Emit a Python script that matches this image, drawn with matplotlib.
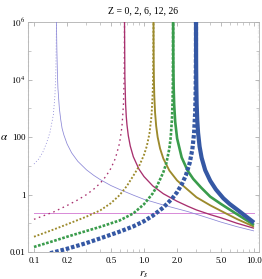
import matplotlib
matplotlib.use('Agg')
import matplotlib.pyplot as plt
from matplotlib.ticker import FixedLocator, FixedFormatter, NullFormatter

title = "Z = 0, 2, 6, 12, 26"
z_values = [0, 2, 6, 12, 26]
alpha_line = 0.235
alpha_line_range = [0.1, 10.0]

# Z = 0
r0_sol = [0.160, 0.1615, 0.163, 0.165, 0.17, 0.175, 0.18, 0.187, 0.2, 0.22, 0.25, 0.3, 0.35, 0.4,
          0.5, 0.6, 0.8, 1.0, 1.25, 1.5, 2.0, 2.5, 3.0, 4.0, 5.0, 7.0, 10.0]
a0_sol = [1e6, 1e5, 2e4, 5000, 1000, 400, 200, 117, 57, 28, 14.3, 7.2, 4.6, 3.3,
          2.05, 1.5, 0.95, 0.68, 0.53, 0.43, 0.32, 0.255, 0.205, 0.145, 0.11, 0.076, 0.054]
r0_dot = [0.1, 0.11, 0.12, 0.13, 0.14, 0.15, 0.155, 0.158, 0.160]
a0_dot = [11.5, 17, 29, 62, 150, 600, 2800, 2e4, 1e6]

# Z = 2
r2_sol = [0.665, 0.67, 0.68, 0.69, 0.70, 0.72, 0.75, 0.8, 0.9, 1.0, 1.2, 1.5, 2.0, 2.5, 3.0, 4.0, 5.0, 7.0, 10.0]
a2_sol = [1e6, 12400, 1400, 514, 266, 111, 48.6, 20.5, 7.6, 4.2, 2.0, 1.06, 0.58, 0.39, 0.29, 0.2, 0.155, 0.1, 0.067]
r2_dot = [0.1, 0.15, 0.2, 0.25, 0.3, 0.35, 0.4, 0.45, 0.5, 0.55, 0.6, 0.63, 0.65, 0.66, 0.665]
a2_dot = [0.137, 0.245, 0.415, 0.65, 0.99, 1.55, 2.48, 4.26, 8.1, 18.3, 62, 225, 1270, 11600, 1e6]

# Z = 6
r6_sol = [1.22, 1.225, 1.23, 1.24, 1.26, 1.29, 1.33, 1.4, 1.5, 1.7, 2.0, 2.5, 3.0, 4.0, 5.0, 7.0, 10.0]
a6_sol = [1e6, 44800, 11260, 2837, 720, 241, 100, 39.6, 17.6, 6.8, 3.07, 1.46, 0.8, 0.42, 0.27, 0.14, 0.076]
r6_dot = [0.1, 0.15, 0.2, 0.3, 0.4, 0.5, 0.6, 0.7, 0.8, 0.9, 1.0, 1.06, 1.12, 1.17, 1.2, 1.21, 1.22]
a6_dot = [0.034, 0.06, 0.092, 0.17, 0.28, 0.5, 0.95, 2.0, 4.5, 9.5, 24, 48, 130, 540, 3500, 14000, 1e6]

# Z = 12
r12_sol = [1.84, 1.845, 1.85, 1.86, 1.88, 1.92, 2.0, 2.2, 2.5, 2.8, 3.3, 4.0, 5.0, 6.0, 8.0, 10.0]
a12_sol = [1e6, 84000, 21100, 5300, 1341, 342, 89, 19.4, 6.6, 3.5, 1.75, 0.84, 0.47, 0.3, 0.15, 0.087]
r12_dot = [0.1, 0.15, 0.2, 0.3, 0.4, 0.6, 0.8, 1.0, 1.2, 1.3, 1.4, 1.5, 1.6, 1.7, 1.75, 1.8, 1.82, 1.83, 1.84]
a12_dot = [0.015, 0.024, 0.034, 0.054, 0.075, 0.125, 0.22, 0.46, 1.09, 1.82, 3.35, 6.0, 12.8, 40, 99, 517, 2093, 8400, 1e6]

# Z = 26
r26_sol = [2.97, 2.975, 2.98, 2.99, 3.01, 3.05, 3.1, 3.2, 3.34, 3.6, 4.0, 4.5, 5.26, 6.0, 7.46, 8.5, 10.0]
a26_sol = [1e6, 92000, 23000, 5775, 1452, 368, 142, 46.7, 18.9, 7.0, 3.0, 1.5, 0.74, 0.47, 0.25, 0.17, 0.105]
r26_dot = [0.14, 0.155, 0.2, 0.3, 0.4, 0.6, 0.8, 1.0, 1.2, 1.5, 1.8, 2.0, 2.2, 2.4, 2.6, 2.75, 2.85, 2.92, 2.95, 2.965, 2.97]
a26_dot = [0.0091, 0.01, 0.013, 0.0205, 0.0298, 0.051, 0.078, 0.118, 0.183, 0.354, 0.72, 1.21, 2.22, 4.6, 12.4, 37, 130, 760, 4800, 78000, 1e6]

x_ticks = [0.1, 0.2, 0.5, 1.0, 2.0, 5.0, 10.0]
x_ticklabels = ["0.1", "0.2", "0.5", "1.0", "2.0", "5.0", "10.0"]
x_minor = [0.3, 0.4, 0.6, 0.7, 0.8, 0.9, 3, 4, 6, 7, 8, 9]
y_ticks = [0.01, 1, 100, 1e4, 1e6]
y_ticklabels = ["0.01", "1", "100", r"$10^4$", r"$10^6$"]
y_minor = [0.1, 10, 1000, 1e5]
y_minor_small = [m * 10.0 ** e for e in range(-2, 6) for m in (2, 3, 4, 5, 6, 7, 8, 9)]

colors = ["#8a86d6", "#a8306e", "#9c8a2c", "#3a9c4c", "#3558a4"]
widths = [0.55, 0.95, 1.35, 1.9, 3.0]
dot_patterns = [(1.3, 2.6), (1.2, 2.7), (1.0, 1.0), (1.0, 0.6), (0.85, 0.45)]

solid = [(r0_sol, a0_sol), (r2_sol, a2_sol), (r6_sol, a6_sol), (r12_sol, a12_sol), (r26_sol, a26_sol)]
dotted = [(r0_dot, a0_dot), (r2_dot, a2_dot), (r6_dot, a6_dot), (r12_dot, a12_dot), (r26_dot, a26_dot)]

plt.rcParams['mathtext.fontset'] = 'stix'
plt.rcParams['font.family'] = ['Liberation Serif', 'DejaVu Serif']

fig = plt.figure(figsize=(2.62, 2.79), dpi=100)
ax = fig.add_axes([28/262, 1-252/279, (259-28)/262, (252-22)/279])
ax.set_xscale('log')
ax.set_yscale('log')
ax.set_xlim(0.0882, 11.1)
ax.set_ylim(0.01, 1e6)

for i in range(5):
    r, a = solid[i]
    ax.plot(r, a, color=colors[i], lw=widths[i], solid_capstyle='butt', solid_joinstyle='round', zorder=3)
    r, a = dotted[i]
    ax.plot(r, a, color=colors[i], lw=widths[i], linestyle=(0, dot_patterns[i]),
            dash_capstyle='butt', zorder=3)

ax.plot(alpha_line_range, [alpha_line, alpha_line], color="#d88ad8", lw=0.7, zorder=2)

ax.xaxis.set_major_locator(FixedLocator(x_ticks))
ax.xaxis.set_major_formatter(FixedFormatter(x_ticklabels))
ax.xaxis.set_minor_locator(FixedLocator(x_minor))
ax.xaxis.set_minor_formatter(NullFormatter())
ax.yaxis.set_major_locator(FixedLocator(y_ticks))
ax.yaxis.set_major_formatter(FixedFormatter(y_ticklabels))
ax.yaxis.set_minor_locator(FixedLocator(y_minor))
ax.yaxis.set_minor_formatter(NullFormatter())

for s in ax.spines.values():
    s.set_color("#b0b0b0")
    s.set_linewidth(0.6)
ax.tick_params(which='both', direction='in', top=True, right=True, color="#a0a0a0",
               labelsize=6.5)
ax.tick_params(axis='x', pad=3.5)
ax.tick_params(axis='y', pad=2)
ax.tick_params(which='major', length=3, width=0.5)
ax.tick_params(which='minor', length=2.0, width=0.4)

# extra very short ticks inside each decade on the y axis
for yv in y_minor_small:
    ax.plot([0, 0.006], [yv, yv], transform=ax.get_yaxis_transform(), color="#c0c0c0", lw=0.3, clip_on=False, zorder=1)
    ax.plot([0.994, 1.0], [yv, yv], transform=ax.get_yaxis_transform(), color="#c0c0c0", lw=0.3, clip_on=False, zorder=1)

ax.set_title(title, fontsize=7, pad=6)
ax.set_xlabel(r"$r_s$", fontsize=8, labelpad=3)
ax.set_ylabel(r"$\alpha$", fontsize=8, rotation=0, labelpad=4, va='center')

fig.savefig("out.png", dpi=100)
